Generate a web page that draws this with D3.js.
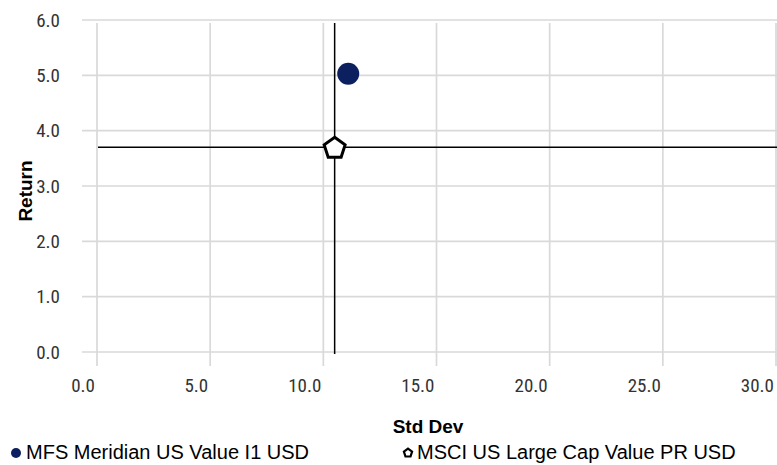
<!DOCTYPE html>
<html>
<head>
<meta charset="utf-8">
<script src="https://cdn.jsdelivr.net/npm/d3@7"></script>
<style>
  body { margin: 0; background: #fff; }
  .tick-label { font-family: "Liberation Sans Narrow", "Roboto Condensed", "DejaVu Sans Condensed", sans-serif; font-stretch: condensed; font-size: 19px; fill: #333; }
  .axis-title { font-family: "Liberation Sans", Arial, sans-serif; font-weight: bold; font-size: 19px; fill: #000; }
  .legend-text { font-family: "Liberation Sans", Arial, sans-serif; font-size: 20px; fill: #000; }
</style>
</head>
<body>
<div id="chart"></div>
<script>
var svgWidth = 777;
var svgHeight = 465;

// data
var xTicks = [0, 5, 10, 15, 20, 25, 30];
var yTicks = [0, 1, 2, 3, 4, 5, 6];
var seriesNames = ["MFS Meridian US Value I1 USD", "MSCI US Large Cap Value PR USD"];
var stdDev = [11.1, 10.5];
var returns = [5.03, 3.7];
// crosshair sits on the benchmark
var benchStdDev = 10.5;
var benchReturn = 3.7;

var svg = d3.select("#chart")
  .append("svg")
  .attr("width", svgWidth)
  .attr("height", svgHeight);

var x = d3.scaleLinear().domain([0, 30]).range([97, 776]);
var y = d3.scaleLinear().domain([0, 6]).range([352, 20]);

// gridlines
svg.selectAll(".hgrid")
  .data(yTicks)
  .enter()
  .append("line")
  .attr("x1", 82)
  .attr("x2", 777)
  .attr("y1", d => y(d))
  .attr("y2", d => y(d))
  .attr("stroke", "#d9d9d9")
  .attr("stroke-width", 1.7);

svg.selectAll(".vgrid")
  .data(xTicks)
  .enter()
  .append("line")
  .attr("x1", d => x(d))
  .attr("x2", d => x(d))
  .attr("y1", 23)
  .attr("y2", 366)
  .attr("stroke", "#d9d9d9")
  .attr("stroke-width", 1.7);

// tick labels
svg.selectAll(".xlab")
  .data(xTicks)
  .enter()
  .append("text")
  .attr("class", "tick-label")
  .attr("x", d => x(d) - 2)
  .attr("y", 392)
  .attr("text-anchor", "end")
  .text(d => d.toFixed(1));

svg.selectAll(".ylab")
  .data(yTicks)
  .enter()
  .append("text")
  .attr("class", "tick-label")
  .attr("x", 60)
  .attr("y", d => y(d))
  .attr("dy", "0.35em")
  .attr("text-anchor", "end")
  .text(d => d.toFixed(1));

// crosshair
svg.append("line")
  .attr("x1", x(benchStdDev)).attr("x2", x(benchStdDev))
  .attr("y1", 23).attr("y2", 354)
  .attr("stroke", "#000").attr("stroke-width", 1.5);

svg.append("line")
  .attr("x1", 98).attr("x2", 777)
  .attr("y1", y(benchReturn)).attr("y2", y(benchReturn))
  .attr("stroke", "#000").attr("stroke-width", 1.5);

// pentagon helper
function pentagon(r) {
  return d3.lineRadial()
    .angle(d => d * 2 * Math.PI / 5)
    .radius(r)
    .curve(d3.curveLinearClosed)([0, 1, 2, 3, 4]);
}

// points
svg.append("circle")
  .attr("cx", x(stdDev[0]))
  .attr("cy", y(returns[0]))
  .attr("r", 11)
  .attr("fill", "#0c1f5e");

svg.append("path")
  .attr("d", pentagon(11))
  .attr("transform", `translate(${x(stdDev[1])}, ${y(returns[1]) + 1})`)
  .attr("fill", "#fff")
  .attr("stroke", "#000")
  .attr("stroke-width", 3)
  .attr("stroke-linejoin", "miter");

// axis titles
svg.append("text")
  .attr("class", "axis-title")
  .attr("transform", "translate(32, 191) rotate(-90)")
  .attr("text-anchor", "middle")
  .text("Return");

svg.append("text")
  .attr("class", "axis-title")
  .attr("x", 428)
  .attr("y", 433)
  .attr("text-anchor", "middle")
  .text("Std Dev");

// legend
svg.append("circle")
  .attr("cx", 16).attr("cy", 453).attr("r", 5)
  .attr("fill", "#0c1f5e");
svg.append("text")
  .attr("class", "legend-text")
  .attr("x", 26).attr("y", 459)
  .text(seriesNames[0]);

svg.append("path")
  .attr("d", pentagon(4.3))
  .attr("transform", "translate(408, 453)")
  .attr("fill", "#fff")
  .attr("stroke", "#000")
  .attr("stroke-width", 2.2);
svg.append("text")
  .attr("class", "legend-text")
  .attr("x", 417).attr("y", 459)
  .text(seriesNames[1]);
</script>
</body>
</html>
